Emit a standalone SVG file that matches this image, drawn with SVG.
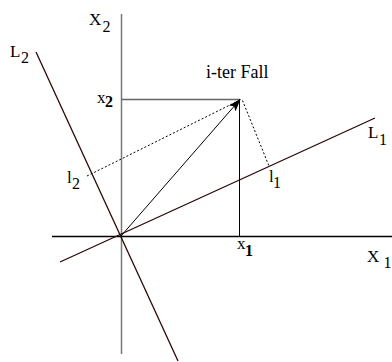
<svg xmlns="http://www.w3.org/2000/svg" width="392" height="362" viewBox="0 0 392 362" font-family="'Liberation Serif', 'DejaVu Serif', serif">
<defs>
<style>
text{font-family:'Liberation Serif','DejaVu Serif',serif;font-size:17px;fill:#000}
.sub{font-size:16px}
.b{font-weight:bold}
.axis{stroke:#000;stroke-width:1.3;fill:none}
.vaxis{stroke:#777;stroke-width:1.5;fill:none}
.line{stroke:#2b0808;stroke-width:1.3;fill:none}
.guide{stroke:#000;stroke-width:1;fill:none}
.hguide{stroke:#666;stroke-width:1.3;fill:none}
.dot{stroke:#000;stroke-width:1;stroke-dasharray:2,2;fill:none}
</style>
<marker id="arr" markerWidth="13" markerHeight="9" refX="12" refY="4.5" orient="auto" markerUnits="userSpaceOnUse">
<path d="M0,0 L13,4.5 L0,9 L3,4.5 Z" fill="#000"/>
</marker>
</defs>
<g id="connectors">
<line class="vaxis" x1="121.5" y1="14" x2="121.5" y2="354"/>
<line class="axis" x1="52" y1="236.5" x2="392" y2="236.5"/>
<line class="line" x1="60" y1="262" x2="375" y2="118"/>
<line class="line" x1="36" y1="52" x2="178" y2="361"/>
<line class="hguide" x1="121.5" y1="99.5" x2="240" y2="99.5"/>
<line class="guide" x1="239.5" y1="99.5" x2="239.5" y2="236"/>
<line class="dot" x1="87" y1="176" x2="236" y2="102"/>
<line class="dot" x1="242.5" y1="100.5" x2="269" y2="166"/>
<line class="guide" x1="121" y1="236" x2="240" y2="99.5" marker-end="url(#arr)"/>
</g>
<g id="label-X2"><text x="89" y="25">X</text><text class="sub" x="102.5" y="32">2</text></g>
<g id="label-L2"><text x="10" y="57">L</text><text class="sub" x="21" y="63">2</text></g>
<g id="label-x2"><text x="97" y="103">x</text><text class="sub b" x="105" y="107">2</text></g>
<g id="label-l2"><text x="67" y="183">l</text><text class="sub" x="72" y="189">2</text></g>
<g id="label-title"><text x="206" y="78" style="font-size:18px">i-ter Fall</text></g>
<g id="label-L1"><text x="368" y="138">L</text><text class="sub" x="379" y="145">1</text></g>
<g id="label-l1"><text x="269" y="182">l</text><text class="sub" x="273" y="188">1</text></g>
<g id="label-x1"><text x="237" y="249">x</text><text class="sub b" x="245" y="256">1</text></g>
<g id="label-X1"><text x="367" y="262">X</text><text class="sub" x="383.5" y="268">1</text></g>
</svg>
